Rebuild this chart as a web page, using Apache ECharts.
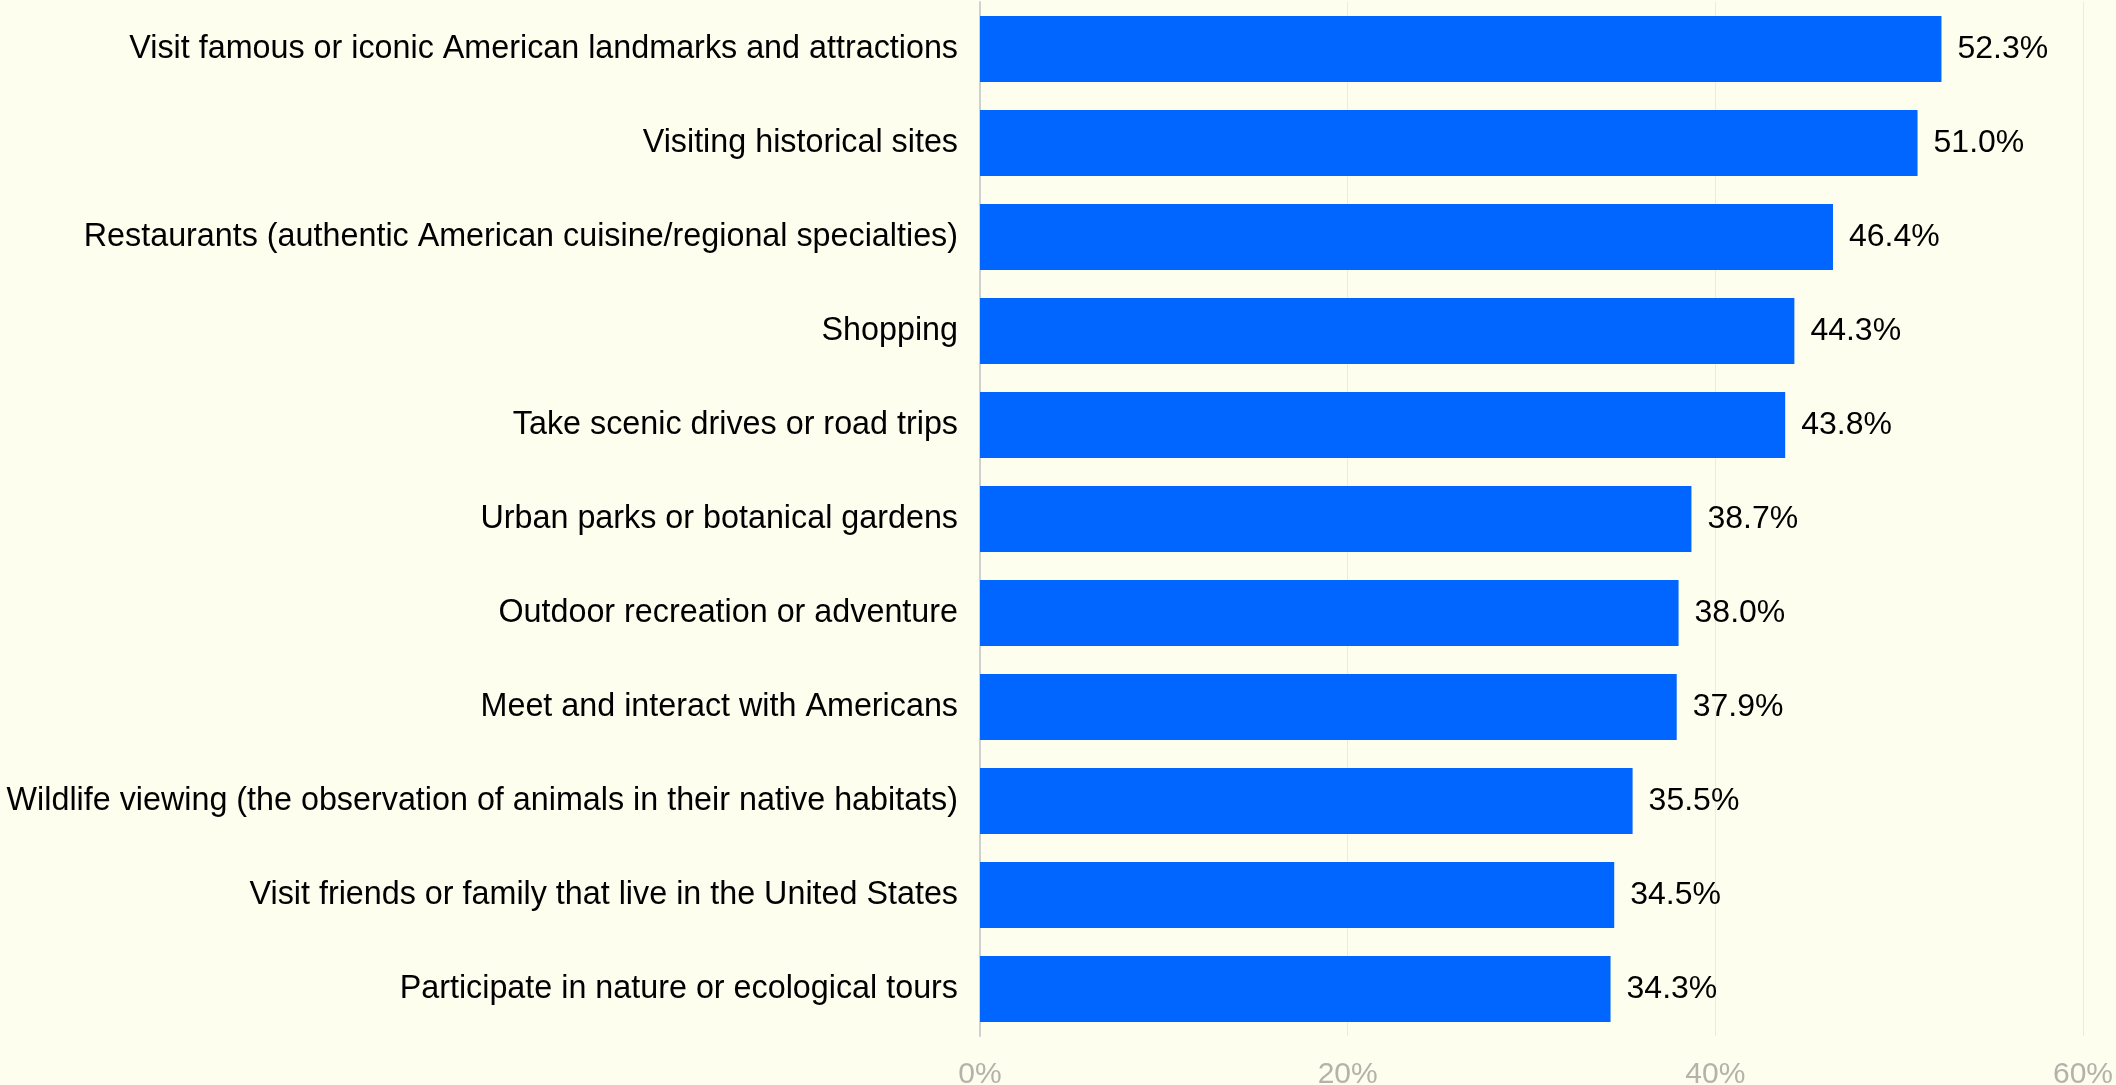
<!DOCTYPE html>
<html>
<head>
<meta charset="utf-8">
<script src="https://cdn.jsdelivr.net/npm/echarts@6/dist/echarts.min.js"></script>
<style>
html,body{margin:0;padding:0;background:#fdfeee;}
#c{width:2116px;height:1085px;}
</style>
</head>
<body>
<div id="c"></div>
<script>
const categories = [
  "Visit famous or iconic American landmarks and attractions",
  "Visiting historical sites",
  "Restaurants (authentic American cuisine/regional specialties)",
  "Shopping",
  "Take scenic drives or road trips",
  "Urban parks or botanical gardens",
  "Outdoor recreation or adventure",
  "Meet and interact with Americans",
  "Wildlife viewing (the observation of animals in their native habitats)",
  "Visit friends or family that live in the United States",
  "Participate in nature or ecological tours"
];
const values = [52.3, 51.0, 46.4, 44.3, 43.8, 38.7, 38.0, 37.9, 35.5, 34.5, 34.3];
const tickLabels = ["0%", "20%", "40%", "60%"];

const chart = echarts.init(document.getElementById('c'));
chart.setOption({
  backgroundColor: '#fdfeee',
  animation: false,
  grid: {left: 980, right: 33, top: 2, bottom: 49, containLabel: false, outerBoundsMode: 'none'},
  xAxis: {
    type: 'value', min: 0, max: 60, interval: 20,
    axisLine: {show: false}, axisTick: {show: false},
    splitLine: {lineStyle: {color: '#ebebdf', width: 1}},
    axisLabel: {
      color: '#b3b3ab', fontSize: 30, fontFamily: 'Liberation Sans, Arial, sans-serif', margin: 24,
      formatter: v => tickLabels[Math.round(v / 20)]
    }
  },
  yAxis: {
    type: 'category', inverse: true, data: categories,
    axisLine: {show: true, lineStyle: {color: '#d0d0d0', width: 2}},
    axisTick: {show: false},
    axisLabel: {color: '#000', fontSize: 32.3, fontFamily: 'Liberation Sans, Arial, sans-serif', margin: 22}
  },
  series: [{
    type: 'bar', data: values, barCategoryGap: '30%',
    itemStyle: {color: '#0066ff'},
    label: {
      show: true, position: 'right', distance: 16, color: '#000', fontSize: 32,
      fontFamily: 'Liberation Sans, Arial, sans-serif',
      formatter: p => p.value.toFixed(1) + '%'
    }
  }]
});
</script>
</body>
</html>
